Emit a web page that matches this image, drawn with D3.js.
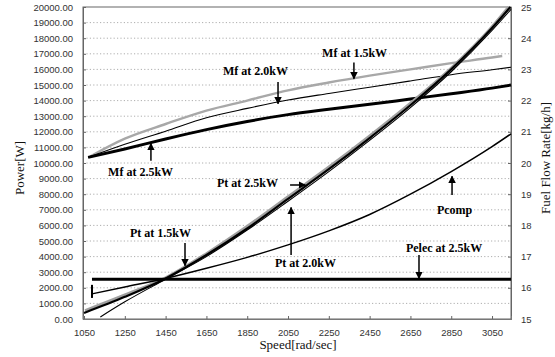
<!DOCTYPE html>
<html lang="en">
<head>
    <meta charset="UTF-8">
    <title>Power and Fuel Flow vs Speed</title>
    <script src="https://d3js.org/d3.v7.min.js"></script>
    <style>
        body {
            margin: 0;
            background: #fff;
        }
        svg {
            display: block;
        }
        .tick-label {
            font-family: "Liberation Sans", Arial, sans-serif;
            font-size: 9.5px;
            fill: #333;
        }
        .axis-title {
            font-family: "Liberation Serif", "Times New Roman", serif;
            font-size: 13px;
            fill: #111;
        }
        .note {
            font-family: "Liberation Serif", "Times New Roman", serif;
            font-size: 12px;
            font-weight: bold;
            fill: #000;
        }
        .grid {
            stroke: #999;
            stroke-width: 0.8;
            stroke-dasharray: 1.2, 2.2;
        }
    </style>
</head>
<body>

<svg id="chart"></svg>

<script>
    const width = 555;
    const height = 357;

    // speed [rad/sec] ticks and axis ticks
    const speedTicks = [1050, 1250, 1450, 1650, 1850, 2050, 2250, 2450, 2650, 2850, 3050];
    const powerTicks = d3.range(0, 20001, 1000);
    const fuelTicks = [15, 16, 17, 18, 19, 20, 21, 22, 23, 24, 25];

    // turbine power [W] vs speed
    const pt15 = [[1055, 550], [1250, 1550], [1450, 2650], [1650, 4200], [1850, 5950], [2050, 7850],
                  [2250, 9750], [2450, 11750], [2650, 13850], [2850, 16100], [3050, 18750], [3130, 20000]];
    const pt20 = [[1130, 130], [1250, 1100], [1450, 2550], [1650, 4000], [1850, 5700], [2050, 7550],
                  [2250, 9450], [2450, 11450], [2650, 13550], [2850, 15850], [3050, 18500], [3143, 19850]];
    const pt25 = [[1050, 390], [1250, 1420], [1450, 2600], [1650, 4100], [1850, 5800], [2050, 7700],
                  [2250, 9600], [2450, 11600], [2650, 13700], [2850, 16000], [3050, 18650], [3140, 20000]];

    // compressor power [W]
    const pcomp = [[1089, 1610], [1250, 2050], [1450, 2600], [1650, 3250], [1850, 3950], [2050, 4750],
                   [2250, 5650], [2450, 6700], [2650, 8000], [2850, 9450], [3050, 11050], [3143, 11870]];

    // electric power [W]
    const pelec = [[1089, 2550], [3143, 2550]];
    const pelecStub = [[1089, 1350], [1089, 2190]];

    // fuel flow rate [kg/h]
    const mf15 = [[1080, 20.21], [1250, 20.78], [1450, 21.25], [1650, 21.68], [1850, 22.0], [2050, 22.33],
                  [2250, 22.58], [2450, 22.8], [2650, 23.0], [2850, 23.2], [3050, 23.38], [3100, 23.43]];
    const mf20 = [[1070, 20.18], [1250, 20.6], [1450, 21.02], [1650, 21.45], [1850, 21.75], [2050, 22.02],
                  [2250, 22.23], [2450, 22.43], [2650, 22.63], [2850, 22.83], [3050, 22.99], [3143, 23.07]];
    const mf25 = [[1070, 20.18], [1250, 20.45], [1450, 20.77], [1650, 21.07], [1850, 21.33], [2050, 21.55],
                  [2250, 21.72], [2450, 21.88], [2650, 22.05], [2850, 22.22], [3050, 22.4], [3143, 22.5]];

    // annotation labels: text position and arrow from -> to, in speed / power units
    const notes = [
        { text: "Mf at 1.5kW", x: 2217, y: 16800, a: [2373, 16450, 2373, 15400] },
        { text: "Mf at 2.0kW", x: 1731, y: 15640, a: [2001, 15190, 2001, 13800] },
        { text: "Mf at 2.5kW", x: 1168, y: 9170, a: [1378, 10150, 1378, 11250] },
        { text: "Pt at 2.5kW", x: 1702, y: 8460, a: [2060, 8590, 2135, 8590] },
        { text: "Pt at 1.5kW", x: 1275, y: 5260, a: [1545, 4870, 1545, 3420] },
        { text: "Pt at 2.0kW", x: 1986, y: 3330, a: [2065, 4100, 2065, 7150] },
        { text: "Pcomp", x: 2780, y: 6730, a: [2854, 7950, 2854, 9150] },
        { text: "Pelec at 2.5kW", x: 2628, y: 4300, a: [2692, 4100, 2692, 2600] }
    ];

    const plot = { left: 83, right: 511, top: 7, bottom: 319 };

    const svg = d3.select("#chart")
        .attr("width", width)
        .attr("height", height);

    const x = d3.scaleLinear().domain([1045, 3143]).range([plot.left, plot.right]);
    const y = d3.scaleLinear().domain([0, 20000]).range([plot.bottom, plot.top]);
    const y2 = d3.scaleLinear().domain([15, 25]).range([plot.bottom, plot.top]);

    svg.append("defs").append("marker")
        .attr("id", "head")
        .attr("viewBox", "0 0 10 10")
        .attr("refX", 9)
        .attr("refY", 5)
        .attr("markerWidth", 5)
        .attr("markerHeight", 5)
        .attr("markerUnits", "strokeWidth")
        .attr("orient", "auto")
        .append("path")
        .attr("d", "M0,0 L10,5 L0,10 z")
        .attr("fill", "#000");

    // dotted gridlines
    svg.append("g")
        .selectAll("line")
        .data(powerTicks.slice(1, -1))
        .enter().append("line")
        .attr("class", "grid")
        .attr("x1", plot.left)
        .attr("x2", plot.right)
        .attr("y1", d => y(d))
        .attr("y2", d => y(d));

    // frame
    svg.append("rect")
        .attr("x", plot.left)
        .attr("y", plot.top)
        .attr("width", plot.right - plot.left)
        .attr("height", plot.bottom - plot.top)
        .attr("fill", "none")
        .attr("stroke", "#666")
        .attr("stroke-width", 1);

    // left axis
    const leftAxis = svg.append("g")
        .attr("transform", `translate(${plot.left},0)`)
        .call(d3.axisLeft(y).tickValues(powerTicks).tickFormat(d3.format(".2f")).tickSize(-3).tickPadding(10));
    leftAxis.select(".domain").attr("stroke", "#666");

    // right axis
    const rightAxis = svg.append("g")
        .attr("transform", `translate(${plot.right},0)`)
        .call(d3.axisRight(y2).tickValues(fuelTicks).tickFormat(d3.format("d")).tickSize(-3).tickPadding(10));
    rightAxis.select(".domain").attr("stroke", "#666");

    // bottom axis
    const bottomAxis = svg.append("g")
        .attr("transform", `translate(0,${plot.bottom})`)
        .call(d3.axisBottom(x).tickValues(speedTicks).tickFormat(d3.format("d")).tickSize(-3).tickPadding(10));
    bottomAxis.select(".domain").attr("stroke", "#777");

    [leftAxis, rightAxis, bottomAxis].forEach(g => {
        g.selectAll(".tick line").attr("stroke", "#666");
        g.selectAll(".tick text").attr("class", "tick-label").attr("font-family", null).attr("font-size", null);
    });

    const powerLine = d3.line().x(d => x(d[0])).y(d => y(d[1])).curve(d3.curveMonotoneX);
    const fuelLine = d3.line().x(d => x(d[0])).y(d => y2(d[1])).curve(d3.curveMonotoneX);
    const straight = d3.line().x(d => x(d[0])).y(d => y(d[1]));

    const series = [
        { data: mf15, line: fuelLine, color: "#a8a8a8", w: 2.4 },
        { data: mf20, line: fuelLine, color: "#000", w: 1.1 },
        { data: mf25, line: fuelLine, color: "#000", w: 3 },
        { data: pt15, line: powerLine, color: "#a0a0a0", w: 2.6 },
        { data: pt20, line: powerLine, color: "#000", w: 1.1 },
        { data: pt25, line: powerLine, color: "#000", w: 2.2 },
        { data: pcomp, line: powerLine, color: "#000", w: 1.5 },
        { data: pelec, line: straight, color: "#000", w: 3 },
        { data: pelecStub, line: straight, color: "#000", w: 2 }
    ];

    svg.append("g")
        .selectAll("path")
        .data(series)
        .enter().append("path")
        .attr("d", d => d.line(d.data))
        .attr("fill", "none")
        .attr("stroke", d => d.color)
        .attr("stroke-width", d => d.w);

    // annotations
    const noteG = svg.append("g");
    noteG.selectAll("line")
        .data(notes)
        .enter().append("line")
        .attr("x1", d => x(d.a[0]))
        .attr("y1", d => y(d.a[1]))
        .attr("x2", d => x(d.a[2]))
        .attr("y2", d => y(d.a[3]))
        .attr("stroke", "#000")
        .attr("stroke-width", 1.5)
        .attr("marker-end", "url(#head)");

    noteG.selectAll("text")
        .data(notes)
        .enter().append("text")
        .attr("class", "note")
        .attr("x", d => x(d.x))
        .attr("y", d => y(d.y))
        .text(d => d.text);

    // axis titles
    svg.append("text")
        .attr("class", "axis-title")
        .attr("transform", "translate(24,168) rotate(-90)")
        .attr("text-anchor", "middle")
        .text("Power[W]");

    svg.append("text")
        .attr("class", "axis-title")
        .attr("transform", "translate(550,158) rotate(-90)")
        .attr("text-anchor", "middle")
        .text("Fuel Flow Rate[kg/h]");

    svg.append("text")
        .attr("class", "axis-title")
        .attr("x", 298)
        .attr("y", 349)
        .attr("text-anchor", "middle")
        .text("Speed[rad/sec]");
</script>

</body>
</html>
